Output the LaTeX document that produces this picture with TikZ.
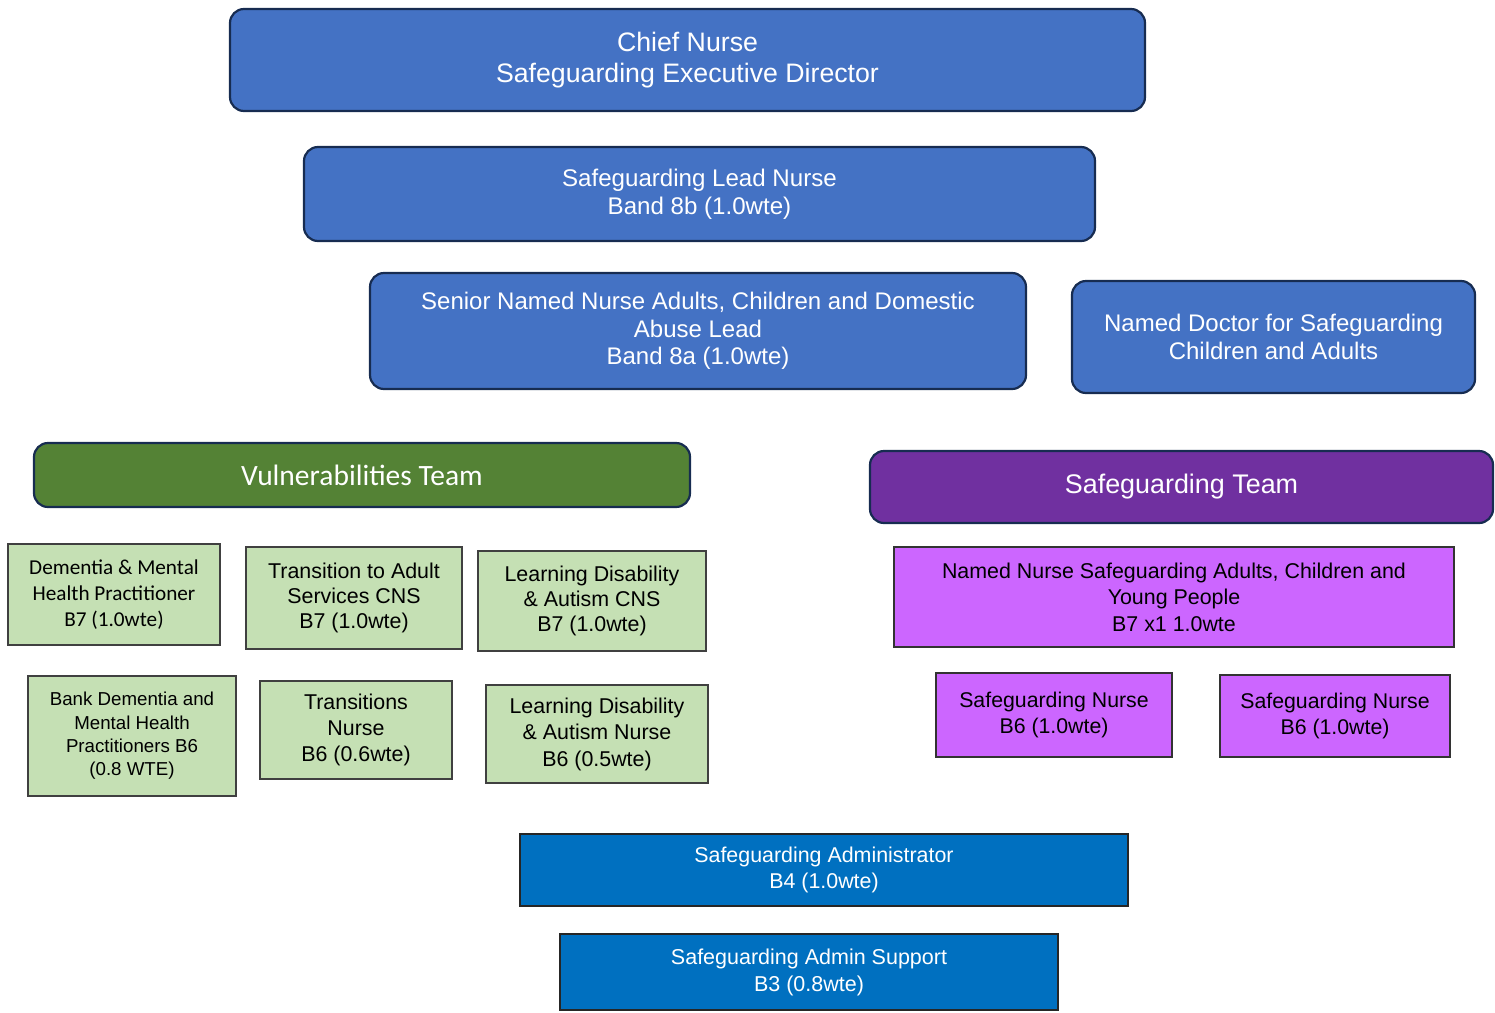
\documentclass[tikz,border=0pt]{standalone}
\usepackage{fontspec}
\setmainfont{Liberation Sans}
\newfontfamily\calibri{Carlito}
\definecolor{chiefblue}{HTML}{4472C4}
\definecolor{navyline}{HTML}{172C51}
\definecolor{vulngreen}{HTML}{548235}
\definecolor{palegreen}{HTML}{C5E0B4}
\definecolor{teampurple}{HTML}{7030A0}
\definecolor{palepurple}{HTML}{CC66FF}
\definecolor{adminblue}{HTML}{0070C0}
\tikzset{
  roundbox/.style={draw=navyline, line width=2.2pt, rounded corners=14pt,
    text=white, align=center, inner sep=0pt},
  lead/.style={roundbox, fill=chiefblue},
  vteam/.style={roundbox, fill=vulngreen},
  steam/.style={roundbox, fill=teampurple},
  greenbox/.style={draw=black!75, line width=1.2pt, fill=palegreen,
    align=center, inner sep=0pt},
  purplebox/.style={draw=black!80, line width=1.2pt, fill=palepurple,
    align=center, inner sep=0pt},
  adminbox/.style={draw=black!85, line width=1.4pt, fill=adminblue,
    text=white, align=center, inner sep=0pt},
  size/.style 2 args={font=\fontsize{#1}{#2}\selectfont},
}
\begin{document}
\begin{tikzpicture}[x=1pt, y=-1pt]
  \useasboundingbox (0,0) rectangle (1495,1012);
  \node[lead, size={26.7}{31}, minimum width=915pt, minimum height=102pt]
    (chief) at (687.5,60) {Chief Nurse\\Safeguarding Executive Director};
  \node[lead, size={24.1}{28}, minimum width=791pt, minimum height=94pt]
    (leadnurse) at (699.5,194) {Safeguarding Lead Nurse\\Band 8b (1.0wte)};
  \node[lead, size={24}{27.5}, minimum width=656pt, minimum height=116pt]
    (senior) at (698,331)
    {Senior Named Nurse Adults, Children and Domestic\\Abuse Lead\\Band 8a (1.0wte)};
  \node[lead, size={24}{28}, minimum width=403pt, minimum height=112pt]
    (doctor) at (1273.5,337) {Named Doctor for Safeguarding\\Children and Adults};

  \node[vteam, font=\calibri\fontsize{29.5}{34}\selectfont, minimum width=656pt, minimum height=64pt]
    (vulnteam) at (362,475) {Vulnerabilities Team};
  \node[steam, size={26.9}{31}, minimum width=623pt, minimum height=72pt]
    (sgteam) at (1181.5,487) {Safeguarding Team};

  \node[greenbox, font=\calibri\fontsize{21.2}{26}\selectfont, minimum width=212pt, minimum height=101pt]
    (dementia) at (114,594.5) {Dementia \& Mental\\Health Practitioner\\B7 (1.0wte)};
  \node[greenbox, size={21.4}{25}, minimum width=216pt, minimum height=102pt]
    (transition) at (354,598) {Transition to Adult\\Services CNS\\B7 (1.0wte)};
  \node[greenbox, size={21.4}{25}, minimum width=228pt, minimum height=100pt]
    (ldcns) at (592,601) {Learning Disability\\\& Autism CNS\\B7 (1.0wte)};
  \node[greenbox, size={18.7}{23.3}, minimum width=208pt, minimum height=120pt]
    (bank) at (132,736) {Bank Dementia and\\Mental Health\\Practitioners B6\\(0.8 WTE)};
  \node[greenbox, size={21.4}{26}, minimum width=192pt, minimum height=98pt]
    (transnurse) at (356,730) {Transitions\\Nurse\\B6 (0.6wte)};
  \node[greenbox, size={21.4}{26.5}, minimum width=222pt, minimum height=98pt]
    (ldnurse) at (597,734) {Learning Disability\\\& Autism Nurse\\B6 (0.5wte)};

  \node[purplebox, size={21.4}{26.5}, minimum width=560pt, minimum height=100pt]
    (namednurse) at (1174,597)
    {Named Nurse Safeguarding Adults, Children and\\Young People\\B7 x1 1.0wte};
  \node[purplebox, size={21.3}{26}, minimum width=236pt, minimum height=84pt]
    (sgnurse1) at (1054,715) {Safeguarding Nurse\\B6 (1.0wte)};
  \node[purplebox, size={21.3}{26}, minimum width=230pt, minimum height=82pt]
    (sgnurse2) at (1335,716) {Safeguarding Nurse\\B6 (1.0wte)};

  \node[adminbox, size={21.4}{26}, minimum width=608pt, minimum height=72pt]
    (admin) at (824,870) {Safeguarding Administrator\\B4 (1.0wte)};
  \node[adminbox, size={21.5}{27}, minimum width=498pt, minimum height=76pt]
    (adminsupport) at (809,972) {Safeguarding Admin Support\\B3 (0.8wte)};
\end{tikzpicture}
\end{document}
